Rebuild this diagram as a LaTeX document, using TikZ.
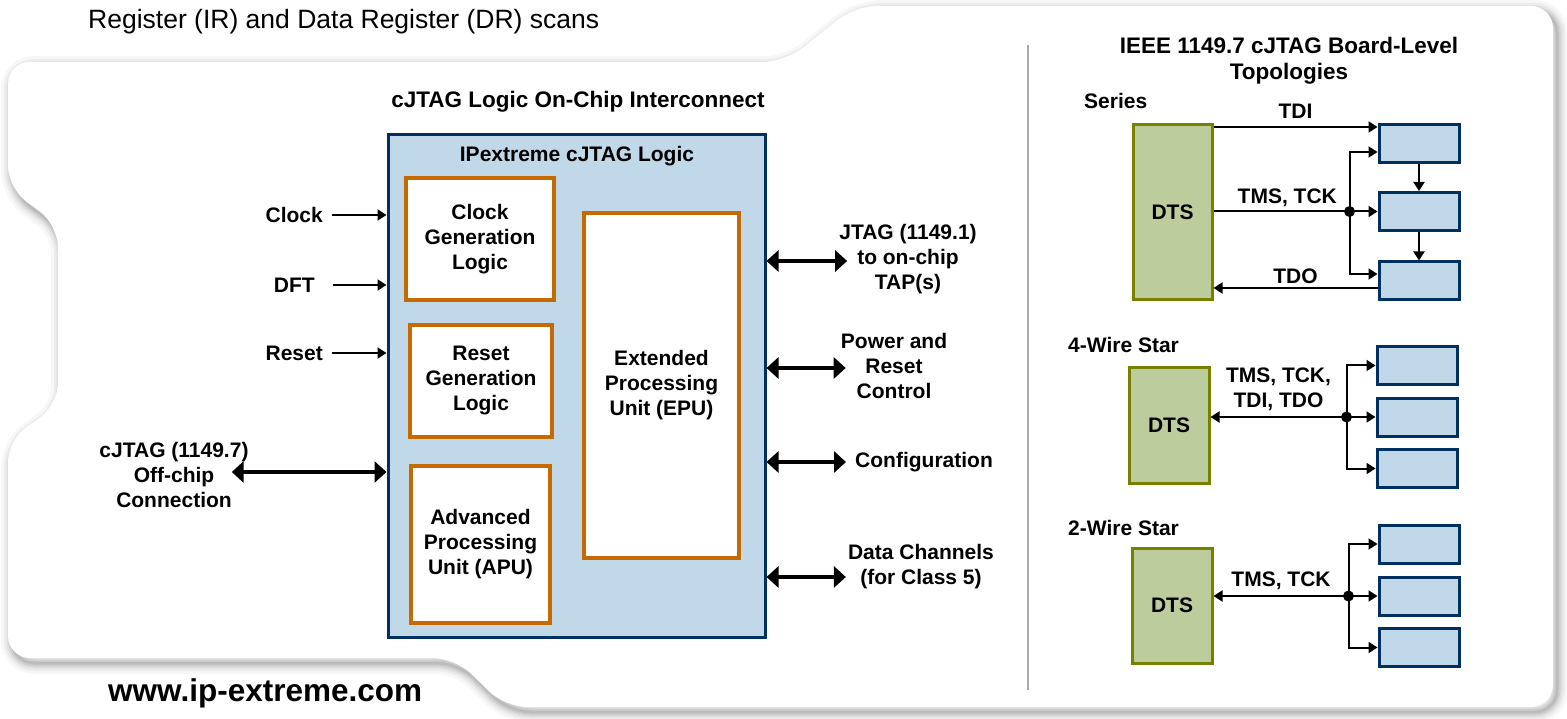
\documentclass[tikz,border=0pt]{standalone}
\usepackage{fontspec}
\setmainfont{Liberation Sans}
\usepackage{tikz}
\usetikzlibrary{arrows.meta,positioning,calc}
\definecolor{ipblue}{RGB}{192,216,232}
\definecolor{ipnavy}{RGB}{0,48,96}
\definecolor{iporange}{RGB}{198,106,0}
\definecolor{dtsgreen}{RGB}{188,204,156}
\definecolor{dtsolive}{RGB}{120,128,0}
\definecolor{cardgray}{RGB}{90,90,90}
\definecolor{sepgray}{RGB}{170,170,170}

% outline of the tabbed card behind everything
\newcommand{\cardoutline}{(300,62) -- (785,62) -- (855,6) -- (1553,6) -- (1553,707)
  -- (505,707) -- (455,658) -- (8,658) -- (8,440) -- (58,405) -- (58,225)
  -- (8,188) -- (8,62) -- cycle}

\begin{document}
\begin{tikzpicture}[x=1pt, y=-1pt,
    txt/.style={font=\fontsize{21}{25}\selectfont\bfseries, align=center, inner sep=0pt},
    hdr/.style={font=\fontsize{22.5}{26}\selectfont\bfseries, align=center, inner sep=0pt},
    ipbox/.style={draw=ipnavy, line width=3pt, fill=ipblue},
    blockbox/.style={draw=iporange, line width=3.5pt, fill=white, align=center,
      font=\fontsize{21}{25}\selectfont\bfseries},
    dtsbox/.style={draw=dtsolive, line width=3pt, fill=dtsgreen,
      font=\fontsize{21}{25}\selectfont\bfseries},
    tapbox/.style={draw=ipnavy, line width=3pt, fill=ipblue, minimum width=80pt, minimum height=38pt},
    thinarr/.style={-{Triangle[length=9pt,width=11pt]}, line width=2pt},
    bigarr/.style={{Triangle[length=12pt,width=21pt]}-{Triangle[length=12pt,width=21pt]}, line width=4.5pt},
    dot/.style={circle, fill=black, inner sep=0pt, minimum size=11pt}
]
\useasboundingbox (0,0) rectangle (1567,719);

% Card with soft shadow
\foreach \w/\o in {22/0.05,16/0.07,11/0.09,7/0.12,3/0.16} {
  \draw[cardgray, line width=\w pt, opacity=\o, rounded corners=22pt, xshift=4pt, yshift=-5pt] \cardoutline;
}
\fill[white, rounded corners=22pt] \cardoutline;
\draw[sepgray, line width=2pt] (1028,45) -- (1028,690);

% Captions
\node[font=\fontsize{26.5}{30}\selectfont, anchor=west, inner sep=0pt] (scans) at (88,22) {Register (IR) and Data Register (DR) scans};
\node[font=\fontsize{31.5}{36}\selectfont\bfseries, anchor=west, inner sep=0pt] (web) at (108,693) {www.ip-extreme.com};

% On-chip interconnect
\node[hdr] (lefttitle) at (578,102) {cJTAG Logic On-Chip Interconnect};
\node[ipbox, minimum width=377pt, minimum height=502pt] (ip) at (576.5,386) {};
\node[txt] (iptitle) at (577,156) {IPextreme cJTAG Logic};
\node[blockbox, minimum width=148pt, minimum height=122pt] (clkgen) at (480,239) {Clock\\Generation\\Logic};
\node[blockbox, minimum width=142pt, minimum height=112pt] (rstgen) at (481,381) {Reset\\Generation\\Logic};
\node[blockbox, minimum width=139pt, minimum height=157pt] (apu) at (480.5,544.5) {Advanced\\Processing\\Unit (APU)};
\node[blockbox, minimum width=155pt, minimum height=345pt] (epu) at (661.5,385.5) {Extended\\Processing\\Unit (EPU)};

% Inputs
\node[txt, anchor=east] (clk) at (323,215) {Clock};
\node[txt, anchor=east] (dft) at (315,285) {DFT};
\node[txt, anchor=east] (rst) at (323,353) {Reset};
\node[txt] (cjtag) at (174,475) {cJTAG (1149.7)\\Off-chip\\Connection};
\draw[thinarr] ([xshift=9pt]clk.east) -- (clk.east -| ip.west);
\draw[thinarr] ([xshift=18pt]dft.east) -- (dft.east -| ip.west);
\draw[thinarr] ([xshift=9pt]rst.east) -- (rst.east -| ip.west);
\draw[bigarr] ([xshift=-17pt,yshift=3pt]cjtag.east) -- ([yshift=3pt]cjtag.east -| ip.west);

% Outputs
\node[txt] (jtag) at (908,259) {JTAG (1149.1)\\to on-chip\\TAP(s)};
\node[txt] (pwr) at (894,366) {Power and\\Reset\\Control};
\node[txt, anchor=west] (cfg) at (855,462) {Configuration};
\node[txt] (dch) at (921,567) {Data Channels\\(for Class 5)};
\draw[bigarr] ([yshift=-2pt]jtag.west -| ip.east) -- ([xshift=8pt,yshift=-2pt]jtag.west);
\draw[bigarr] ([yshift=-2pt]pwr.west -| ip.east) -- ([xshift=5pt,yshift=-2pt]pwr.west);
\draw[bigarr] (cfg.west -| ip.east) -- ([xshift=-9pt]cfg.west);
\draw[bigarr] ([yshift=-10pt]dch.west -| ip.east) -- ([xshift=-2pt,yshift=-10pt]dch.west);

% Board-level topologies
\node[hdr] (rtitle) at (1289,61) {IEEE 1149.7 cJTAG Board-Level\\Topologies};
\node[txt, anchor=west] (series) at (1084,101) {Series};
\node[txt, anchor=west] (star4) at (1068,345) {4-Wire Star};
\node[txt, anchor=west] (star2) at (1068,528) {2-Wire Star};

% Series
\node[dtsbox, minimum width=79pt, minimum height=175pt] (dtsA) at (1172.5,212.5) {DTS};
\foreach \n/\y in {1/144,2/211.5,3/281} {
  \node[tapbox] (tapA\n) at (1419,\y) {};
}
\coordinate (busA) at ([xshift=-28pt]tapA2.west);
\draw[thinarr] ([yshift=-3.5pt]dtsA.north east) -- ([yshift=-3.5pt]dtsA.north east -| tapA1.west)
  node[midway, above=7pt, txt] {TDI};
\draw[thinarr] (dtsA.east |- tapA2.west) -- (tapA2.west) node[pos=0.45, above=4pt, txt] {TMS, TCK};
\draw[thinarr] (busA) |- ([yshift=-8pt]tapA1.west);
\draw[thinarr] (busA) |- ([yshift=7pt]tapA3.west);
\draw[thinarr] (tapA1.south) -- (tapA2.north);
\draw[thinarr] (tapA2.south) -- (tapA3.north);
\draw[thinarr] ([yshift=-7pt]tapA3.west) -- ([yshift=-7pt]tapA3.west -| dtsA.east)
  node[midway, above=3pt, txt] {TDO};
\node[dot] at (busA) {};

% 4-wire star
\node[dtsbox, minimum width=80pt, minimum height=115pt] (dtsB) at (1169,425.5) {DTS};
\foreach \n/\y in {1/365.5,2/417,3/468.5} {
  \node[tapbox] (tapB\n) at (1417,\y) {};
}
\coordinate (busB) at ([xshift=-29pt]tapB2.west);
\draw[thinarr] (busB) -- (busB -| dtsB.east) node[midway, above=5pt, txt] {TMS, TCK,\\TDI, TDO};
\draw[thinarr] (busB) -- (tapB2.west);
\draw[thinarr] (busB) |- (tapB1.west);
\draw[thinarr] (busB) |- (tapB3.west);
\node[dot] at (busB) {};

% 2-wire star
\node[dtsbox, minimum width=80pt, minimum height=115pt] (dtsC) at (1172,605.5) {DTS};
\foreach \n/\y in {1/544,2/596,3/647.5} {
  \node[tapbox] (tapC\n) at (1419,\y) {};
}
\coordinate (busC) at ([xshift=-29pt]tapC2.west);
\draw[thinarr] (busC) -- (busC -| dtsC.east) node[midway, above=5pt, txt] {TMS, TCK};
\draw[thinarr] (busC) -- (tapC2.west);
\draw[thinarr] (busC) |- (tapC1.west);
\draw[thinarr] (busC) |- (tapC3.west);
\node[dot] at (busC) {};

\end{tikzpicture}
\end{document}
